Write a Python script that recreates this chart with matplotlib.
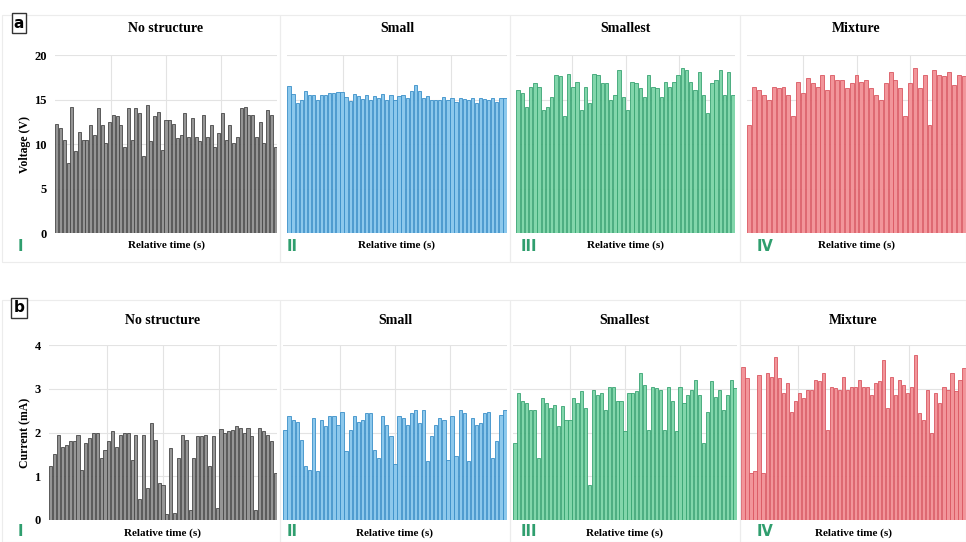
import matplotlib.pyplot as plt
from matplotlib.patches import Rectangle

# peak values, one per pulse
volt_none = [12.3, 11.8, 10.5, 7.85, 14.2, 9.2, 11.4, 10.5, 10.5, 12.1, 11.0, 14.0, 12.1, 10.1, 12.5,
             13.3, 13.1, 12.1, 9.7, 14.0, 10.5, 14.0, 13.5, 8.6, 14.4, 10.3, 13.1, 13.6, 9.3, 12.7,
             12.7, 12.3, 10.7, 11.0, 13.5, 10.8, 12.9, 10.8, 10.3, 13.3, 10.8, 12.1, 9.7, 11.2, 13.5,
             10.5, 12.1, 10.1, 10.8, 14.0, 14.2, 13.3, 13.3, 10.8, 12.5, 10.1, 13.8, 13.3, 9.7]
volt_small = [16.5, 15.6, 14.6, 15.0, 15.9, 15.5, 15.5, 15.0, 15.5, 15.5, 15.7, 15.7, 15.8, 15.8, 15.3,
              14.8, 15.6, 15.4, 15.1, 15.5, 14.9, 15.4, 15.2, 15.6, 15.0, 15.5, 15.0, 15.4, 15.5, 15.2,
              16.0, 16.6, 15.9, 15.2, 15.4, 14.9, 15.0, 15.0, 15.3, 15.0, 15.2, 14.7, 15.2, 15.1, 14.9,
              15.2, 14.6, 15.2, 15.1, 15.0, 15.2, 14.7, 15.2, 15.2]
volt_smallest = [16.1, 15.7, 14.2, 16.4, 16.8, 16.4, 13.8, 14.2, 15.3, 17.8, 17.6, 13.1, 17.9, 16.4, 17.0,
                 13.8, 16.4, 14.6, 17.9, 17.8, 16.8, 16.8, 15.0, 15.5, 18.3, 15.3, 13.8, 17.0, 16.8, 16.3,
                 15.3, 17.8, 16.4, 16.3, 15.3, 17.0, 16.4, 17.0, 17.8, 18.5, 18.3, 17.0, 16.1, 18.1, 15.5,
                 13.5, 16.8, 17.2, 18.3, 15.5, 18.1, 15.5]
volt_mix = [12.1, 16.4, 16.1, 15.5, 15.0, 16.4, 16.3, 16.4, 15.5, 13.1, 17.0, 15.7, 17.4, 16.8, 16.4,
            17.8, 16.1, 17.8, 17.2, 17.2, 16.3, 16.8, 17.8, 17.0, 17.2, 16.3, 15.5, 15.0, 16.8, 18.1,
            17.2, 16.3, 13.1, 16.8, 18.5, 16.3, 17.8, 12.1, 18.3, 17.8, 17.6, 18.1, 16.6, 17.8, 17.6]

curr_none = [1.23, 1.5, 1.95, 1.68, 1.72, 1.8, 1.8, 1.95, 1.15, 1.76, 1.87, 1.99, 1.99, 1.42, 1.61,
             1.8, 2.03, 1.68, 1.95, 1.99, 1.99, 1.38, 1.95, 0.47, 1.95, 0.74, 2.22, 1.84, 0.85, 0.81,
             0.13, 1.65, 0.17, 1.42, 1.95, 1.84, 0.24, 1.42, 1.91, 1.91, 1.95, 1.23, 1.91, 0.28, 2.08,
             1.99, 2.03, 2.06, 2.14, 2.1, 1.99, 2.1, 1.91, 0.24, 2.1, 2.03, 1.95, 1.8, 1.08]
curr_small = [2.06, 2.38, 2.29, 2.25, 1.84, 1.23, 1.15, 2.33, 1.12, 2.29, 2.14, 2.37, 2.37, 2.18, 2.48,
              1.57, 2.06, 2.37, 2.25, 2.29, 2.44, 2.44, 1.61, 1.42, 2.37, 2.18, 1.91, 1.27, 2.37, 2.33,
              2.18, 2.44, 2.52, 2.22, 2.52, 1.34, 1.91, 2.18, 2.33, 2.29, 1.38, 2.37, 1.46, 2.52, 2.44,
              1.34, 2.33, 2.18, 2.22, 2.44, 2.48, 1.42, 1.8, 2.41, 2.52]
curr_smallest = [1.76, 2.9, 2.71, 2.67, 2.52, 2.52, 1.42, 2.79, 2.67, 2.56, 2.63, 2.14, 2.6, 2.29, 2.29,
                 2.79, 2.67, 2.94, 2.56, 0.81, 2.98, 2.86, 2.9, 2.52, 3.05, 3.05, 2.71, 2.71, 2.03, 2.9,
                 2.9, 2.94, 3.35, 3.09, 2.06, 3.05, 3.01, 2.98, 2.06, 3.05, 2.71, 2.03, 3.05, 2.67, 2.86,
                 2.98, 3.2, 2.86, 1.76, 2.48, 3.17, 2.82, 2.98, 2.52, 2.86, 3.2, 3.01]
curr_mix = [3.5, 3.24, 1.08, 1.12, 3.32, 1.08, 3.35, 3.28, 3.73, 3.24, 2.9, 3.13, 2.48, 2.71, 2.9,
            2.79, 2.98, 2.98, 3.2, 3.17, 3.35, 2.06, 3.05, 3.01, 2.98, 3.28, 2.98, 3.05, 3.05, 3.2,
            3.05, 3.05, 2.86, 3.13, 3.17, 3.66, 2.56, 3.28, 2.86, 3.2, 3.09, 2.9, 3.05, 3.77, 2.44,
            2.29, 2.98, 1.99, 2.9, 2.67, 3.05, 2.98, 3.35, 2.94, 3.2, 3.47]

titles = ["No structure", "Small", "Smallest", "Mixture"]
numerals = ["I", "II", "III", "IV"]
faces = ["#959595", "#8cc8ec", "#82d6ab", "#f2959a"]
edges = ["#474747", "#3a8fc8", "#38a372", "#da5761"]

W, H = 966, 542
fig = plt.figure(figsize=(W / 100, H / 100), dpi=100)
serif = "Liberation Serif"
green = "#2f9e6e"


def px(x0, y_top, x1, y_bot):
    return [x0 / W, 1 - y_bot / H, (x1 - x0) / W, (y_bot - y_top) / H]


rows = [
    dict(data=[volt_none, volt_small, volt_smallest, volt_mix], ymax=20, ticks=[0, 5, 10, 15, 20],
         ylabel="Voltage (V)", top=55, bot=233,
         xs=[(55, 277), (287, 507), (516, 735), (747, 966)],
         box_top=15, box_bot=262, title_y=28, label_y=245, num_y=246, letter="a"),
    dict(data=[curr_none, curr_small, curr_smallest, curr_mix], ymax=4, ticks=[0, 1, 2, 3, 4],
         ylabel="Current (mA)", top=345, bot=520,
         xs=[(49, 277), (283, 507), (513, 737), (741, 966)],
         box_top=300, box_bot=542, title_y=320, label_y=533, num_y=532, letter="b"),
]

box_x = [(2, 280), (280, 510), (510, 740), (740, 966)]

for r in rows:
    for j, vals in enumerate(r["data"]):
        # light panel frame
        bx0, bx1 = box_x[j]
        fig.add_artist(Rectangle((bx0 / W, 1 - r["box_bot"] / H), (bx1 - bx0) / W,
                                 (r["box_bot"] - r["box_top"]) / H, transform=fig.transFigure,
                                 fill=False, edgecolor="#ececec", linewidth=0.8))

        x0, x1 = r["xs"][j]
        ax = fig.add_axes(px(x0, r["top"], x1, r["bot"]))
        n = len(vals)
        ax.bar(range(n), vals, width=0.8, color=faces[j], edgecolor=edges[j],
               linewidth=0.6, zorder=2)
        ax.set_xlim(-0.5, n - 0.5)
        ax.set_ylim(0, r["ymax"])
        ax.set_yticks(r["ticks"])
        ax.set_xticks([(n - 1) * k / 4 for k in range(1, 4)])
        ax.grid(True, color="#e3e3e3", linewidth=0.8, zorder=0)
        ax.tick_params(length=0, labelbottom=False)
        for s in ax.spines.values():
            s.set_visible(False)
        if j == 0:
            for t in ax.get_yticklabels():
                t.set_fontfamily(serif)
                t.set_fontweight("bold")
                t.set_fontsize(9)
            ax.tick_params(axis="y", pad=6)
            ax.set_ylabel(r["ylabel"], fontfamily=serif, fontweight="bold", fontsize=8.5, labelpad=2)
        else:
            ax.tick_params(labelleft=False)

        cx = (x0 + x1) / 2 / W
        fig.text(cx, 1 - r["title_y"] / H, titles[j], ha="center", va="center",
                 fontfamily=serif, fontweight="bold", fontsize=10)
        fig.text(cx, 1 - r["label_y"] / H, "Relative time (s)", ha="center", va="center",
                 fontfamily=serif, fontweight="bold", fontsize=8)
        nx = [20, 292, 529, 765][j]
        fig.text(nx / W, 1 - r["num_y"] / H, numerals[j], ha="center", va="center",
                 fontfamily="DejaVu Sans", fontweight="bold", fontsize=10.5, color=green)

    # panel letter in a box
    ly = r["box_top"] + 8
    fig.text(19 / W, 1 - ly / H, r["letter"], ha="center", va="center",
             fontfamily="DejaVu Sans", fontweight="bold", fontsize=11,
             bbox=dict(boxstyle="square,pad=0.15", facecolor="white", edgecolor="#333333",
                       linewidth=1.0))

fig.savefig("out.png", dpi=100)
